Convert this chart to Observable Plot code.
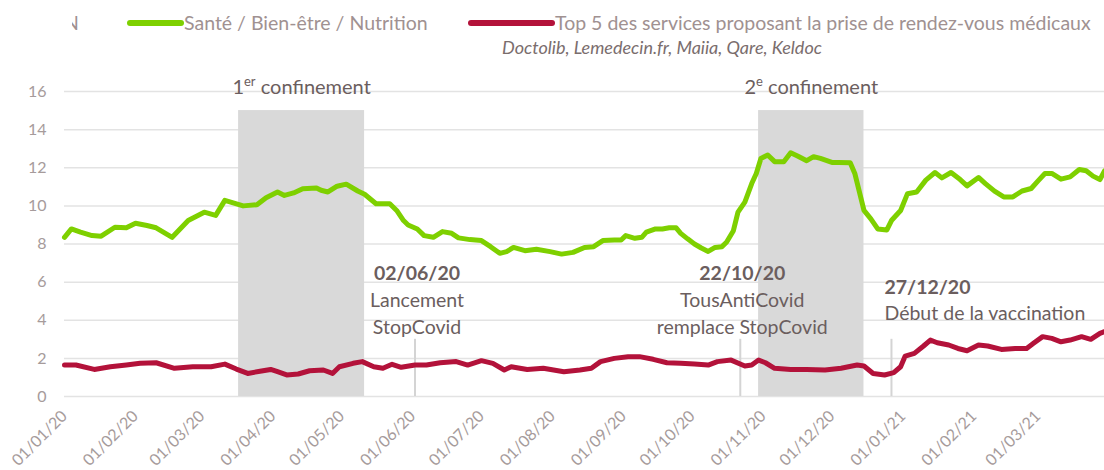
<!DOCTYPE html>
<html>
<head>
<meta charset="utf-8">
<script src="https://cdn.jsdelivr.net/npm/d3@7"></script>
<script src="https://cdn.jsdelivr.net/npm/@observablehq/plot@0.6"></script>
<style>
  body { margin: 0; background: #fff; font-family: Lato, "Open Sans", sans-serif; }
  #wrap { position: relative; width: 1104px; height: 470px; overflow: hidden; background: #fff; }
  #legend { position: relative; width: 1104px; height: 60px; }
  #legend .lbl { position: absolute; font-size: 19.5px; color: #a09191; white-space: nowrap; line-height: 22px; }
  #legend .note { position: absolute; font-size: 18px; font-style: italic; color: #7a6d6d; white-space: nowrap; line-height: 20px; }
  #legend svg { position: absolute; left: 0; top: 0; }
  #clip { position: absolute; left: 72px; top: 12px; width: 7px; height: 22px; overflow: hidden; }
  #clip span { position: absolute; right: 0; top: 0; font-size: 19.5px; color: #a09191; line-height: 22px; }
</style>
</head>
<body>
<div id="wrap">
  <div id="legend"></div>
  <div id="chart"></div>
</div>
<script>
// ---- Data ----
const seriesNames = ["Santé / Bien-être / Nutrition", "Top 5 des services proposant la prise de rendez-vous médicaux"];
const seriesNote = "Doctolib, Lemedecin.fr, Maiia, Qare, Keldoc";
const seriesColors = ["#7ed000", "#b3123a"];

const healthDates = [
  "2020-01-01","2020-01-04","2020-01-08","2020-01-13","2020-01-17","2020-01-23","2020-01-28","2020-02-01","2020-02-06","2020-02-10",
  "2020-02-17","2020-02-24","2020-03-02","2020-03-07","2020-03-11","2020-03-19","2020-03-25","2020-03-29","2020-04-03","2020-04-06",
  "2020-04-10","2020-04-14","2020-04-20","2020-04-22","2020-04-25","2020-04-29","2020-05-03","2020-05-08","2020-05-11","2020-05-16",
  "2020-05-22","2020-05-25","2020-05-28","2020-05-30","2020-06-03","2020-06-06","2020-06-10","2020-06-14","2020-06-18","2020-06-21",
  "2020-06-26","2020-07-01","2020-07-05","2020-07-09","2020-07-12","2020-07-15","2020-07-20","2020-07-25","2020-07-31","2020-08-05",
  "2020-08-10","2020-08-15","2020-08-19","2020-08-23","2020-08-28","2020-08-31","2020-09-02","2020-09-06","2020-09-09","2020-09-11",
  "2020-09-15","2020-09-18","2020-09-21","2020-09-24","2020-09-26","2020-09-29","2020-10-02","2020-10-05","2020-10-08","2020-10-11",
  "2020-10-14","2020-10-16","2020-10-19","2020-10-21","2020-10-24","2020-10-27","2020-10-29","2020-10-31","2020-11-03","2020-11-06",
  "2020-11-10","2020-11-13","2020-11-16","2020-11-20","2020-11-23","2020-11-26","2020-12-01","2020-12-04","2020-12-09","2020-12-11",
  "2020-12-15","2020-12-18","2020-12-21","2020-12-25","2020-12-27","2020-12-31","2021-01-03","2021-01-07","2021-01-11","2021-01-15",
  "2021-01-18","2021-01-22","2021-01-26","2021-01-29","2021-02-03","2021-02-06","2021-02-10","2021-02-14","2021-02-18","2021-02-22",
  "2021-02-26","2021-03-01","2021-03-04","2021-03-07","2021-03-11","2021-03-15","2021-03-19","2021-03-22","2021-03-25","2021-03-28",
  "2021-03-30"
];
const healthValues = [
  8.35, 8.79, 8.62, 8.44, 8.41, 8.88, 8.85, 9.09, 8.97, 8.85,
  8.35, 9.23, 9.67, 9.50, 10.29, 10.00, 10.06, 10.43, 10.73, 10.55,
  10.68, 10.90, 10.94, 10.82, 10.73, 11.03, 11.14, 10.78, 10.61, 10.11,
  10.11, 9.76, 9.23, 9.00, 8.79, 8.44, 8.35, 8.65, 8.56, 8.32,
  8.23, 8.18, 7.86, 7.51, 7.60, 7.82, 7.65, 7.72, 7.60, 7.47,
  7.56, 7.82, 7.86, 8.18, 8.21, 8.21, 8.44, 8.30, 8.35, 8.62,
  8.79, 8.79, 8.85, 8.85, 8.56, 8.27, 8.00, 7.79, 7.61, 7.82,
  7.86, 8.09, 8.70, 9.67, 10.20, 11.17, 11.70, 12.49, 12.67, 12.32,
  12.32, 12.79, 12.62, 12.37, 12.58, 12.49, 12.28, 12.28, 12.26, 11.70,
  9.76, 9.32, 8.79, 8.74, 9.23, 9.76, 10.64, 10.73, 11.35, 11.75,
  11.47, 11.75, 11.38, 11.05, 11.49, 11.17, 10.77, 10.47, 10.47, 10.78,
  10.91, 11.31, 11.70, 11.70, 11.40, 11.52, 11.91, 11.84, 11.56, 11.38,
  11.84
];

const rdvDates = [
  "2020-01-01","2020-01-06","2020-01-14","2020-01-21","2020-01-28","2020-02-03","2020-02-10","2020-02-18","2020-02-26","2020-03-05",
  "2020-03-11","2020-03-16","2020-03-21","2020-03-27","2020-03-31","2020-04-03","2020-04-07","2020-04-12","2020-04-17","2020-04-23",
  "2020-04-27","2020-04-30","2020-05-06","2020-05-10","2020-05-15","2020-05-19","2020-05-23","2020-05-27","2020-06-02","2020-06-07",
  "2020-06-13","2020-06-20","2020-06-25","2020-07-01","2020-07-06","2020-07-11","2020-07-14","2020-07-21","2020-07-28","2020-08-06",
  "2020-08-13","2020-08-18","2020-08-22","2020-08-28","2020-09-03","2020-09-08","2020-09-14","2020-09-20","2020-09-26","2020-10-02",
  "2020-10-08","2020-10-12","2020-10-18","2020-10-24","2020-10-27","2020-10-30","2020-11-02","2020-11-06","2020-11-13","2020-11-20",
  "2020-11-28","2020-12-05","2020-12-12","2020-12-15","2020-12-19","2020-12-24","2020-12-28","2020-12-31","2021-01-02","2021-01-06",
  "2021-01-10","2021-01-13","2021-01-16","2021-01-21","2021-01-25","2021-01-29","2021-02-03","2021-02-07","2021-02-13","2021-02-19",
  "2021-02-24","2021-02-27","2021-03-03","2021-03-07","2021-03-11","2021-03-15","2021-03-20","2021-03-24","2021-03-28","2021-03-30"
];
const rdvValues = [
  1.65, 1.65, 1.42, 1.56, 1.65, 1.74, 1.77, 1.48, 1.56, 1.56,
  1.70, 1.44, 1.21, 1.34, 1.42, 1.30, 1.13, 1.18, 1.35, 1.39,
  1.21, 1.56, 1.74, 1.83, 1.56, 1.48, 1.69, 1.53, 1.65, 1.65,
  1.77, 1.83, 1.65, 1.88, 1.74, 1.39, 1.56, 1.42, 1.48, 1.30,
  1.39, 1.48, 1.83, 2.00, 2.09, 2.09, 1.95, 1.77, 1.74, 1.70,
  1.65, 1.83, 1.91, 1.60, 1.65, 1.91, 1.77, 1.48, 1.42, 1.42,
  1.39, 1.48, 1.65, 1.60, 1.21, 1.13, 1.25, 1.56, 2.12, 2.26,
  2.65, 2.96, 2.82, 2.70, 2.52, 2.40, 2.70, 2.65, 2.47, 2.52,
  2.52, 2.79, 3.14, 3.05, 2.87, 2.96, 3.14, 3.00, 3.31, 3.40
];

const lockdownLabels = ["1er confinement", "2e confinement"];
const lockdownStarts = ["2020-03-17", "2020-10-30"];
const lockdownEnds = ["2020-05-11", "2020-12-15"];

const eventDates = ["2020-06-02", "2020-10-22", "2020-12-27"];
const eventTitles = ["02/06/20", "22/10/20", "27/12/20"];
const eventLine1 = ["Lancement", "TousAntiCovid", "Début de la vaccination"];
const eventLine2 = ["StopCovid", "remplace StopCovid", ""];

const yTicks = [0, 2, 4, 6, 8, 10, 12, 14, 16];
const xStart = "2020-01-01";
const xEnd = "2021-03-30";

// ---- Build tables ----
const parse = s => new Date(s + "T00:00:00Z");
const health = healthDates.map((d, i) => ({date: parse(d), value: healthValues[i]}));
const rdv = rdvDates.map((d, i) => ({date: parse(d), value: rdvValues[i]}));
const lockdowns = lockdownLabels.map((l, i) => ({
  label: l, start: parse(lockdownStarts[i]), end: parse(lockdownEnds[i]),
  mid: new Date((parse(lockdownStarts[i]).getTime() + parse(lockdownEnds[i]).getTime()) / 2)
}));
const events = eventDates.map((d, i) => ({date: parse(d), title: eventTitles[i], l1: eventLine1[i], l2: eventLine2[i]}));
const monthTicks = d3.utcMonth.range(parse(xStart), parse("2021-04-01"));
const fmt = d3.utcFormat("%d/%m/%y");

// ---- Legend (HTML above the SVG) ----
const legend = document.getElementById("legend");
legend.innerHTML = `
  <div id="clip"><span>N</span></div>
  <svg width="1104" height="60">
    <line x1="130" x2="181" y1="23" y2="23" stroke="${seriesColors[0]}" stroke-width="6" stroke-linecap="round"/>
    <line x1="471" x2="552" y1="23" y2="23" stroke="${seriesColors[1]}" stroke-width="6" stroke-linecap="round"/>
  </svg>
  <div class="lbl" style="left:184px;top:12px">${seriesNames[0]}</div>
  <div class="lbl" style="left:555px;top:12px">${seriesNames[1]}</div>
  <div class="note" style="left:502px;top:37px">${seriesNote}</div>
`;

// ---- Chart ----
const textColor = "#6b5e5e";
const annSize = 19.5;
const chart = Plot.plot({
  width: 1104,
  height: 410,
  marginTop: 31,
  marginBottom: 74,
  marginLeft: 64,
  marginRight: 0,
  style: {fontFamily: "Lato, 'Open Sans', sans-serif", background: "white", overflow: "visible"},
  x: {type: "utc", domain: [parse(xStart), parse(xEnd)]},
  y: {domain: [0, 16]},
  marks: [
    Plot.ruleY(yTicks, {stroke: "#e3e3e3", strokeWidth: 1.5}),
    Plot.rectY(lockdowns, {x1: "start", x2: "end", y1: 0, y2: 15, fill: "#d9d9d9"}),
    Plot.ruleX(events, {x: "date", y1: 0, y2: 3, stroke: "#d4d4d4", strokeWidth: 2}),
    Plot.axisY({ticks: yTicks, tickSize: 0, tickPadding: 18, fontSize: 16, fill: "#a69b9b", label: null}),
    Plot.axisX({ticks: monthTicks, tickFormat: fmt, tickSize: 0, tickPadding: 17, tickRotate: -45, fontSize: 16, fill: "#a69b9b", label: null}),
    Plot.line(rdv, {x: "date", y: "value", stroke: seriesColors[1], strokeWidth: 5, strokeLinejoin: "round", strokeLinecap: "round"}),
    Plot.line(health, {x: "date", y: "value", stroke: seriesColors[0], strokeWidth: 5, strokeLinejoin: "round", strokeLinecap: "round"}),
    Plot.text(lockdowns, {x: "mid", y: 16.2, text: "label", fontSize: 20, fill: textColor}),
    Plot.text(events.slice(0, 2), {x: "date", y: 6.45, text: "title", fontSize: annSize, fontWeight: "bold", fill: textColor, dx: 2}),
    Plot.text(events.slice(0, 2), {x: "date", y: 5.04, text: "l1", fontSize: annSize, fill: textColor, dx: 2}),
    Plot.text(events.slice(0, 2), {x: "date", y: 3.62, text: "l2", fontSize: annSize, fill: textColor, dx: 2}),
    Plot.text(events.slice(2), {x: "date", y: 5.72, text: "title", fontSize: annSize, fontWeight: "bold", fill: textColor, textAnchor: "start", dx: -7}),
    Plot.text(events.slice(2), {x: "date", y: 4.35, text: "l1", fontSize: annSize, fill: textColor, textAnchor: "start", dx: -7})
  ]
});
document.getElementById("chart").appendChild(chart);

// superscripts for "1er" / "2e"
d3.select(chart).selectAll("text").each(function() {
  const t = this.textContent;
  const m = /^(\d)(er|e) (.*)$/.exec(t);
  if (!m) return;
  const sel = d3.select(this);
  sel.text(null);
  sel.append("tspan").text(m[1]);
  sel.append("tspan").attr("baseline-shift", "super").attr("font-size", "13px").text(m[2]);
  sel.append("tspan").text(" " + m[3]);
});
</script>
</body>
</html>
